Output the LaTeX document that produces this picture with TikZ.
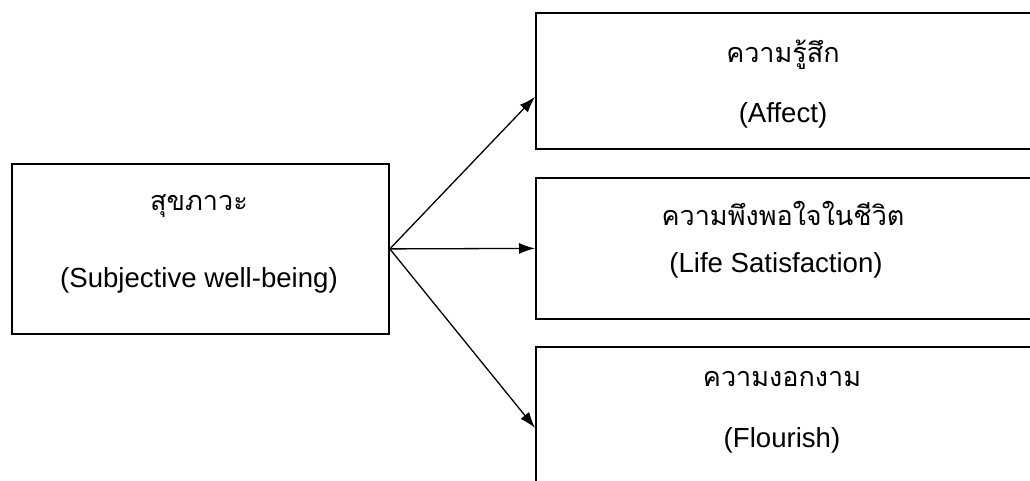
\documentclass[tikz,border=0pt]{standalone}
\usepackage{fontspec}
\setmainfont{Liberation Sans}
\newfontfamily\thaifont[Script=Thai]{Loma}
\usetikzlibrary{arrows.meta, positioning}
\tikzset{
  box/.style={draw, line width=1.8pt, anchor=north west, inner sep=0pt},
  thaitext/.style={font=\thaifont\fontsize{27}{30}\selectfont, inner sep=0pt},
  engtext/.style={font=\fontsize{27.6}{30}\selectfont, inner sep=0pt},
}

\begin{document}
\begin{tikzpicture}[x=1pt, y=-1pt, >={Latex[length=16pt,width=11pt]}, line width=1.3pt]
\useasboundingbox (0,0) rectangle (1030,480);
% boxes
\node[box, minimum width=377pt, minimum height=170pt] (swb) at (11,163) {};
\node[box, minimum width=500pt, minimum height=136pt] (affect) at (535,12) {};
\node[box, minimum width=500pt, minimum height=141pt] (satisf) at (535,177) {};
\node[box, minimum width=500pt, minimum height=162pt] (flour) at (535,346) {};
% texts
\node[thaitext] (swbth) at (199,206) {สุขภาวะ};
\node[engtext] (swben) at (199,280) {(Subjective well-being)};
\node[thaitext] (affectth) at (783,55) {ความรู้สึก};
\node[engtext] (affecten) at (783,115) {(Affect)};
\node[thaitext] (satisfth) at (783,213) {ความพึงพอใจในชีวิต};
\node[engtext] (satisfen) at (776,265) {(Life Satisfaction)};
\node[thaitext] (flourth) at (782,379) {ความงอกงาม};
\node[engtext] (flouren) at (782,440) {(Flourish)};
% arrows
\coordinate (affectin) at ([yshift=-16pt]affect.west);
\draw[->] (swb.east) -- (affectin);
\draw[->] (swb.east) -- (satisf.west);
\draw[->] (swb.east) -- (flour.west);
\end{tikzpicture}
\end{document}
